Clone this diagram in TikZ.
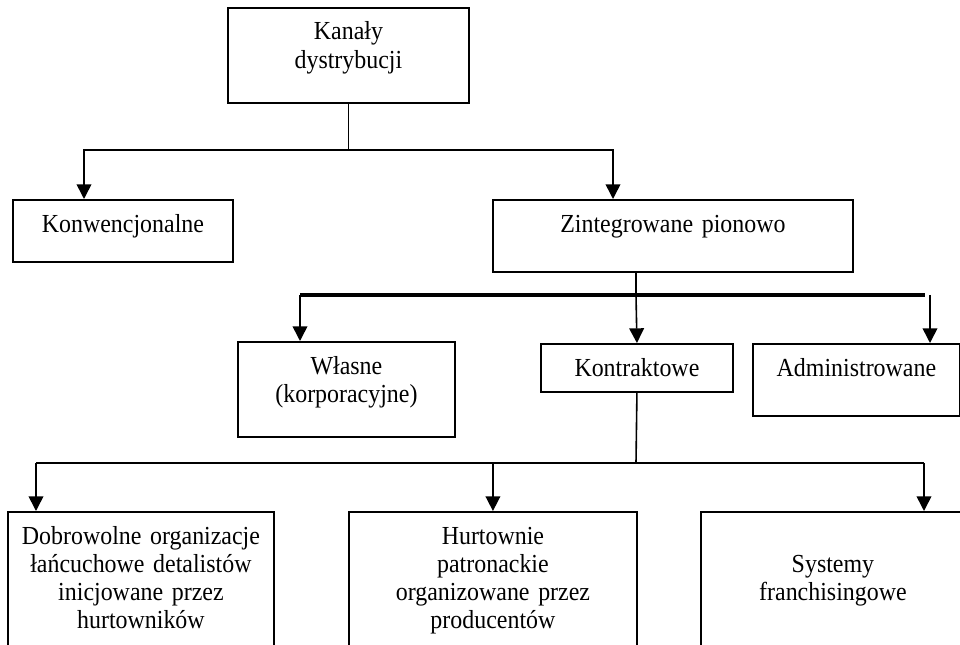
\documentclass[tikz,border=0pt]{standalone}
\usepackage{fontspec}
\setmainfont{Liberation Serif}[FakeStretch=0.92, WordSpace=0.85]
\usetikzlibrary{arrows.meta}

\begin{document}
\begin{tikzpicture}[x=0.75pt, y=-0.75pt,
    box/.style={draw, line width=1.4pt, align=center, inner sep=0pt,
      anchor=north west, text height=24.75pt,
      font=\fontsize{19.5}{20.8}\selectfont},
    conn/.style={line width=1.2pt},
    arrow/.style={line width=1.2pt, -{Triangle[length=11pt,width=11pt]}},
    bus/.style={line width=2.6pt}]
  \clip (0,0) rectangle (960,645);
  % boxes
  \node[box, text width=180.75pt, text height=24pt, text depth=47.25pt,
    font=\fontsize{19.5}{21.75}\selectfont] (kanaly) at (227,7) {Kanały\\dystrybucji};
  \node[box, text width=165pt, text depth=21.75pt] (konw) at (12,199) {Konwencjonalne};
  \node[box, text width=270pt, text depth=29.25pt] (zint) at (492,199) {Zintegrowane pionowo};
  \node[box, text width=162.75pt, text depth=46.5pt] (wlasne) at (237,341) {Własne\\(korporacyjne)};
  \node[box, text width=144pt, text depth=11.25pt] (kontr) at (540,343) {Kontraktowe};
  \node[box, text width=155.25pt, text depth=29.25pt] (admin) at (752,343) {Administrowane};
  \node[box, text width=199.5pt, text depth=87pt] (dobro) at (7,511)
    {Dobrowolne organizacje\\łańcuchowe detalistów\\inicjowane przez\\hurtowników};
  \node[box, text width=216pt, text depth=87pt] (hurt) at (348,511)
    {Hurtownie\\patronackie\\organizowane przez\\producentów};
  \node[box, text width=198pt, text depth=87pt] (syst) at (700,511)
    {~\\Systemy\\franchisingowe};
  % first level
  \coordinate (k1) at (84,150);
  \coordinate (k2) at (613,150);
  \draw[arrow] (kanaly.south) |- (k1) -- (k1 |- konw.north);
  \draw[arrow] (kanaly.south) |- (k2) -- (k2 |- zint.north);
  % second level
  \coordinate (z0) at (636,295);
  \coordinate (w1) at (300,295);
  \coordinate (w2) at (925,295);
  \coordinate (a1) at (930,295);
  \draw[conn] (zint.south -| z0) -- (z0);
  \draw[bus] (w1) -- (w2);
  \draw[arrow] (w1) -- (w1 |- wlasne.north);
  \draw[arrow] (z0) -- (kontr.north);
  \draw[arrow] (a1) -- (a1 |- admin.north);
  % third level
  \coordinate (h0) at (636,463);
  \coordinate (d1) at (36,463);
  \coordinate (s1) at (924,463);
  \draw[conn] (kontr.south) -- (h0);
  \draw[conn] (d1) -- (s1);
  \draw[arrow] (d1) -- (d1 |- dobro.north);
  \draw[arrow] (hurt.north |- h0) -- (hurt.north);
  \draw[arrow] (s1) -- (s1 |- syst.north);
\end{tikzpicture}
\end{document}
